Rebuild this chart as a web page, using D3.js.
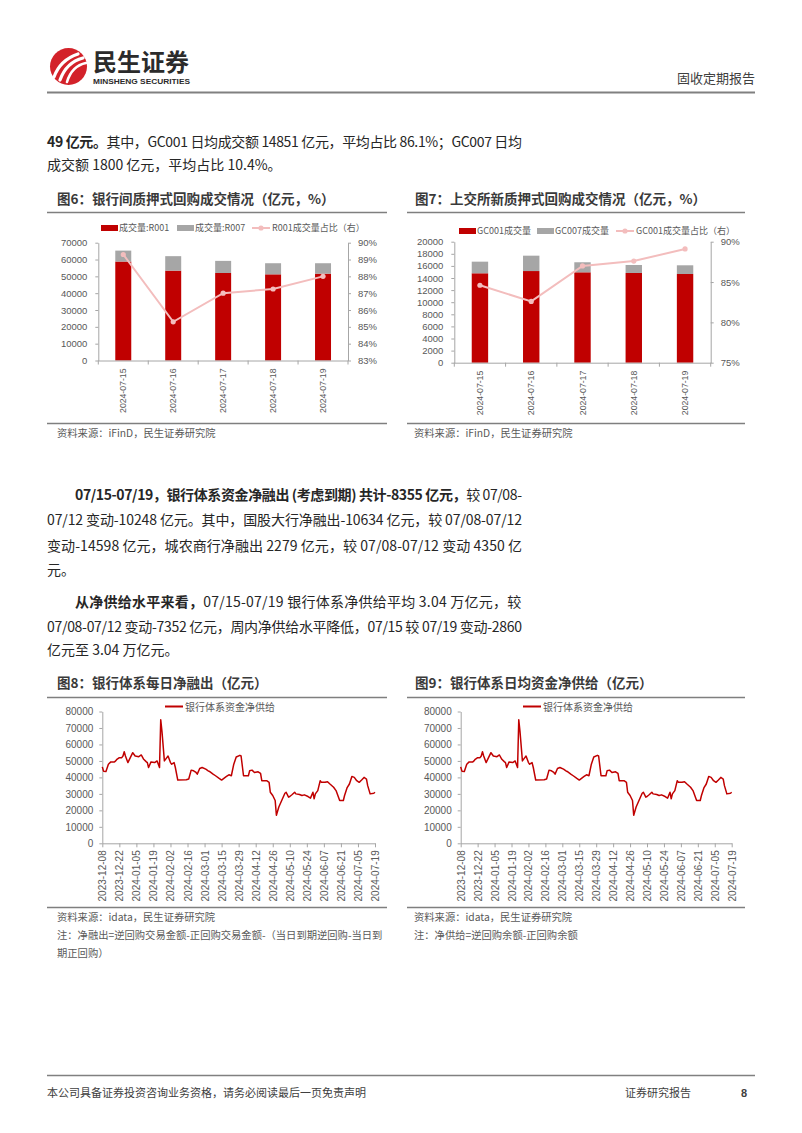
<!DOCTYPE html>
<html><head><meta charset="utf-8">
<script src="https://cdn.jsdelivr.net/npm/d3@7"></script>
<style>body{margin:0;background:#fff} svg{display:block}</style>
</head><body><svg id="page" width="802" height="1133"></svg>
<script>
// ---------- DATA ----------
const categories = ["2024-07-15","2024-07-16","2024-07-17","2024-07-18","2024-07-19"];
const r001 = [58800, 53400, 52000, 51200, 51600];
const r007 = [6500, 8600, 7200, 6600, 6200];
const r001Share = [89.3, 85.3, 87.0, 87.25, 88.0];
const gc001 = [14780, 15150, 14940, 14830, 14660];
const gc007 = [1920, 2540, 1660, 1320, 1440];
const gc001Share = [84.6, 82.6, 87.0, 87.6, 89.1];
const yTicks6 = [0,10000,20000,30000,40000,50000,60000,70000];
const yRight6 = [83,84,85,86,87,88,89,90];
const yTicks7 = [0,2000,4000,6000,8000,10000,12000,14000,16000,18000,20000];
const yRight7 = [75,80,85,90];
const netDays = [0,1,3,5,7,10,11,12,14,16,17,18,19,21,23,25,27,30,32,34,36,37,38,40,43,45,47,48,49,51,53,54,56,57,59,60,62,69,71,73,75,77,78,80,82,85,87,88,91,93,96,98,102,104,106,108,110,113,114,116,120,121,123,125,128,130,131,135,137,138,140,142,143,145,148,150,151,153,154,156,158,159,162,164,166,169,171,173,174,175,177,179,180,183,185,187,190,192,195,198,199,201,203,205,207,209,211,213,215,217,218,220,223,224];
const netValues = [46400,43800,43600,48000,49400,49400,50000,51000,52000,52000,53000,55600,53000,49000,52000,55000,53000,52600,53600,51000,49600,49000,46000,49400,49000,50000,46000,75000,68000,50000,52000,53000,49000,48000,49000,46000,38400,38600,39000,44400,44000,43000,42000,45400,46000,45000,44000,43600,42000,41000,39400,38400,40600,41600,41000,48000,52400,53400,53000,41000,41000,44000,44400,43000,43400,42400,38000,38000,37000,31000,29000,26000,17000,22000,27000,30400,31000,28000,28400,29600,31000,30000,29600,29000,29400,28400,27400,31000,27000,30000,32000,38000,37000,37000,37400,36000,34000,32000,26000,26000,29000,33600,36000,40600,40000,38000,37000,38400,40000,39000,35000,30000,30400,31000];
const netStart = "2023-12-08";
const lineTickLabels = ["2023-12-08","2023-12-22","2024-01-05","2024-01-19","2024-02-02","2024-02-16","2024-03-01","2024-03-15","2024-03-29","2024-04-12","2024-04-26","2024-05-10","2024-05-24","2024-06-07","2024-06-21","2024-07-05","2024-07-19"];
const lineYTicks = [0,10000,20000,30000,40000,50000,60000,70000,80000];

// ---------- STYLE ----------
const CJK = "'Noto Sans CJK SC','Noto Sans',sans-serif";
const NUM = "'Liberation Sans',Arial,sans-serif";
const RED = "#C00000", GRAY = "#A6A6A6", PINK = "#F3BDBD", AX = "#A6A6A6", TXT = "#595959";
const svg = d3.select("#page");
svg.append("rect").attr("width",802).attr("height",1133).attr("fill","#fff");

// ---------- HEADER ----------
const logo = svg.append("g");
logo.append("circle").attr("cx",68.5).attr("cy",66.5).attr("r",18.5).attr("fill","#D3222A");
[["M54,77 C58,66 66,58 78,54", 3.2],["M60,80 C64,69 71,61 83,58",3.2],["M67,82 C70,72 76,65 86,63",2.6]].forEach(([d,w])=>{
  logo.append("path").attr("d",d).attr("fill","none").attr("stroke","#fff").attr("stroke-width",w).attr("stroke-linecap","round");
});
svg.append("text").attr("x",93).attr("y",71).attr("font-family",CJK).attr("font-weight","bold").attr("font-size",24).attr("fill","#2b2b2b").text("民生证券");
svg.append("text").attr("x",93).attr("y",84).attr("font-family",NUM).attr("font-weight","bold").attr("font-size",8).attr("fill","#2b2b2b").attr("textLength",97).attr("lengthAdjust","spacingAndGlyphs").text("MINSHENG SECURITIES");
svg.append("text").attr("x",755).attr("y",83).attr("text-anchor","end").attr("font-family",CJK).attr("font-size",13).attr("fill","#404040").text("固收定期报告");
svg.append("line").attr("x1",47).attr("x2",755).attr("y1",92.5).attr("y2",92.5).attr("stroke","#808080").attr("stroke-width",2);

// ---------- BODY TEXT ----------
function textLine(x, y, segs, width) {
  const t = svg.append("text").attr("x",x).attr("y",y).attr("font-family",CJK).attr("font-size",14).attr("fill","#262626");
  segs.forEach(([s,b])=>t.append("tspan").attr("font-weight",b?"bold":"normal").text(s));
  if (width) {
    const nat = t.node().getComputedTextLength();
    const n = segs.map(s=>s[0]).join("").length;
    t.attr("letter-spacing", ((width-nat)/(n-1)).toFixed(3)+"px");
  }
}
textLine(47,147,[["49 亿元。",1],["其中，GC001 日均成交额 14851 亿元，平均占比 86.1%；GC007 日均",0]],475);
textLine(47,170,[["成交额 1800 亿元，平均占比 10.4%。",0]]);
textLine(75,500,[["07/15-07/19，银行体系资金净融出 (考虑到期) 共计-8355 亿元，",1],["较 07/08-",0]],447);
textLine(47,525,[["07/12 变动-10248 亿元。其中，国股大行净融出-10634 亿元，较 07/08-07/12",0]],475);
textLine(47,551,[["变动-14598 亿元，城农商行净融出 2279 亿元，较 07/08-07/12 变动 4350 亿",0]],475);
textLine(47,575,[["元。",0]]);
textLine(75,607,[["从净供给水平来看，",1],["07/15-07/19  银行体系净供给平均  3.04  万亿元，较",0]],447);
textLine(47,632,[["07/08-07/12 变动-7352 亿元，周内净供给水平降低，07/15 较 07/19 变动-2860",0]],475);
textLine(47,655,[["亿元至 3.04 万亿元。",0]]);

// ---------- helpers ----------
function title(x, y, s, lx1, lx2, ly) {
  svg.append("text").attr("x",x).attr("y",y).attr("font-family",CJK).attr("font-weight","bold").attr("font-size",13.5).attr("fill","#3a3a3a").text(s);
  svg.append("line").attr("x1",lx1).attr("x2",lx2).attr("y1",ly).attr("y2",ly).attr("stroke","#7f7f7f").attr("stroke-width",1.5);
}
function note(x, y, s) {
  svg.append("text").attr("x",x).attr("y",y).attr("font-family",CJK).attr("font-size",10.3).attr("fill",TXT).text(s);
}
function hline(x1,x2,y){ svg.append("line").attr("x1",x1).attr("x2",x2).attr("y1",y).attr("y2",y).attr("stroke","#7f7f7f").attr("stroke-width",1.5); }
function styleAxis(g, fs) {
  g.select(".domain").attr("stroke",AX);
  g.selectAll(".tick line").attr("stroke",AX);
  g.selectAll("text").attr("fill",TXT).attr("font-family",NUM).attr("font-size",fs);
}

// ---------- BAR + LINE CHARTS ----------
function barLine(c) {
  const g = svg.append("g");
  const x = d3.scaleBand().domain(categories).range([c.left,c.right]).paddingInner(0.68).paddingOuter(0.34);
  const y = d3.scaleLinear().domain([0,c.yMax]).range([c.bottom,c.top]);
  const y2 = d3.scaleLinear().domain(c.rDom).range([c.bottom,c.top]);
  categories.forEach((d,i)=>{
    g.append("rect").attr("x",x(d)).attr("width",x.bandwidth()).attr("y",y(c.a[i])).attr("height",y(0)-y(c.a[i])).attr("fill",RED);
    g.append("rect").attr("x",x(d)).attr("width",x.bandwidth()).attr("y",y(c.a[i]+c.b[i])).attr("height",y(c.a[i])-y(c.a[i]+c.b[i])).attr("fill",GRAY);
  });
  const la = g.append("g").attr("transform",`translate(${c.left},0)`).call(d3.axisLeft(y).tickValues(c.yTicks).tickSize(3).tickSizeOuter(0).tickPadding(8).tickFormat(d3.format("d")));
  styleAxis(la,9.5);
  const ra = g.append("g").attr("transform",`translate(${c.right},0)`).call(d3.axisRight(y2).tickValues(c.rTicks).tickSize(3).tickSizeOuter(0).tickPadding(7).tickFormat(d=>d+"%"));
  styleAxis(ra,9.5);
  g.append("line").attr("x1",c.left).attr("x2",c.right).attr("y1",c.bottom+0.5).attr("y2",c.bottom+0.5).attr("stroke",AX);
  const step = x.step();
  d3.range(categories.length+1).forEach(i=>{
    const xx = c.left + i*step;
    g.append("line").attr("x1",xx).attr("x2",xx).attr("y1",c.bottom).attr("y2",c.bottom+4).attr("stroke",AX);
  });
  categories.forEach(d=>{
    const cx = x(d)+x.bandwidth()/2;
    g.append("text").attr("transform",`translate(${cx+3},${c.bottom+8}) rotate(-90)`).attr("text-anchor","end")
      .attr("font-family",NUM).attr("font-size",8.7).attr("fill",TXT).text(d);
  });
  const line = d3.line().x((d,i)=>x(categories[i])+x.bandwidth()/2).y(d=>y2(d));
  g.append("path").datum(c.s).attr("d",line).attr("fill","none").attr("stroke",PINK).attr("stroke-width",2);
  c.s.forEach((v,i)=>g.append("circle").attr("cx",x(categories[i])+x.bandwidth()/2).attr("cy",y2(v)).attr("r",2.6).attr("fill",PINK));
  // legend
  const L = c.leg, ly = c.legY, fs = 9;
  g.append("rect").attr("x",L[0]).attr("y",ly-3).attr("width",17).attr("height",6).attr("fill",RED);
  g.append("text").attr("x",L[0]+18).attr("y",ly+3.3).attr("font-family",CJK).attr("font-size",fs).attr("fill",TXT).text(c.names[0]);
  g.append("rect").attr("x",L[1]).attr("y",ly-3).attr("width",17).attr("height",6).attr("fill",GRAY);
  g.append("text").attr("x",L[1]+18).attr("y",ly+3.3).attr("font-family",CJK).attr("font-size",fs).attr("fill",TXT).text(c.names[1]);
  g.append("line").attr("x1",L[2]).attr("x2",L[2]+18).attr("y1",ly).attr("y2",ly).attr("stroke",PINK).attr("stroke-width",2);
  g.append("circle").attr("cx",L[2]+9).attr("cy",ly).attr("r",2.6).attr("fill",PINK);
  g.append("text").attr("x",L[2]+20).attr("y",ly+3.3).attr("font-family",CJK).attr("font-size",fs).attr("fill",TXT).text(c.names[2]);
}

title(57,204,"图6：银行间质押式回购成交情况（亿元，%）",47,387,212.5);
barLine({left:98.3,right:348,top:242.7,bottom:360.5,yMax:70000,rDom:[83,90],a:r001,b:r007,s:r001Share,yTicks:yTicks6,rTicks:yRight6,
  leg:[101,177,252],legY:228,names:["成交量:R001","成交量:R007","R001成交量占比（右）"]});
hline(47,387,423.5); note(57,437,"资料来源：iFinD，民生证券研究院");

title(415,204,"图7：上交所新质押式回购成交情况（亿元，%）",407,745,212.5);
barLine({left:454.3,right:710.7,top:241.7,bottom:362.7,yMax:20000,rDom:[75,90],a:gc001,b:gc007,s:gc001Share,yTicks:yTicks7,rTicks:yRight7,
  leg:[459,537,616],legY:231,names:["GC001成交量","GC007成交量","GC001成交量占比（右）"]});
hline(407,745,423.5); note(414,437,"资料来源：iFinD，民生证券研究院");

// ---------- LINE CHARTS ----------
const parse = d3.timeParse("%Y-%m-%d");
const t0 = parse(netStart);
const netSeries = netDays.map((d,i)=>({date:d3.timeDay.offset(t0,d), v:netValues[i]}));
function lineChart(c) {
  const g = svg.append("g");
  const x = d3.scaleTime().domain([parse(lineTickLabels[0]), parse(lineTickLabels[lineTickLabels.length-1])]).range([c.left,c.right]);
  const y = d3.scaleLinear().domain([0,80000]).range([c.bottom,c.top]);
  const la = g.append("g").attr("transform",`translate(${c.left},0)`).call(d3.axisLeft(y).tickValues(lineYTicks).tickSize(3).tickSizeOuter(0).tickPadding(6).tickFormat(d3.format("d")));
  styleAxis(la,10);
  const ba = g.append("g").attr("transform",`translate(0,${c.bottom})`).call(d3.axisBottom(x).tickValues(lineTickLabels.map(parse)).tickSize(4).tickSizeOuter(0).tickFormat(d3.timeFormat("%Y-%m-%d")));
  styleAxis(ba,10);
  ba.selectAll("text").attr("text-anchor","end").attr("transform","rotate(-90)").attr("x",-7).attr("y",0).attr("dy","0.35em");
  g.append("path").datum(netSeries).attr("d",d3.line().x(d=>x(d.date)).y(d=>y(d.v))).attr("fill","none").attr("stroke",RED).attr("stroke-width",1.5).attr("stroke-linejoin","round");
  g.append("line").attr("x1",c.legX).attr("x2",c.legX+18).attr("y1",706.5).attr("y2",706.5).attr("stroke",RED).attr("stroke-width",2);
  g.append("text").attr("x",c.legX+20).attr("y",710.5).attr("font-family",CJK).attr("font-size",10).attr("fill",TXT).text("银行体系资金净供给");
}
title(57,688,"图8：银行体系每日净融出（亿元）",47,387,697.5);
lineChart({left:102.3,right:375,top:711.5,bottom:843.3,legX:165});
hline(47,387,907.5);
note(57,921,"资料来源：idata，民生证券研究院");
note(57,939,"注：净融出=逆回购交易金额-正回购交易金额-（当日到期逆回购-当日到");
note(57,957,"期正回购）");

title(415,688,"图9：银行体系日均资金净供给（亿元）",407,745,697.5);
lineChart({left:460.7,right:731.7,top:711.5,bottom:843.3,legX:523});
hline(407,745,907.5);
note(414,921,"资料来源：idata，民生证券研究院");
note(414,939,"注：净供给=逆回购余额-正回购余额");

// ---------- FOOTER ----------
svg.append("line").attr("x1",47).attr("x2",755).attr("y1",1075.5).attr("y2",1075.5).attr("stroke","#808080").attr("stroke-width",1.5);
svg.append("text").attr("x",47).attr("y",1097).attr("font-family",CJK).attr("font-size",11).attr("fill","#404040").text("本公司具备证券投资咨询业务资格，请务必阅读最后一页免责声明");
svg.append("text").attr("x",625).attr("y",1097).attr("font-family",CJK).attr("font-size",11).attr("fill","#404040").text("证券研究报告");
svg.append("text").attr("x",741).attr("y",1097).attr("font-family",NUM).attr("font-weight","bold").attr("font-size",11).attr("fill","#404040").text("8");
</script></body></html>
